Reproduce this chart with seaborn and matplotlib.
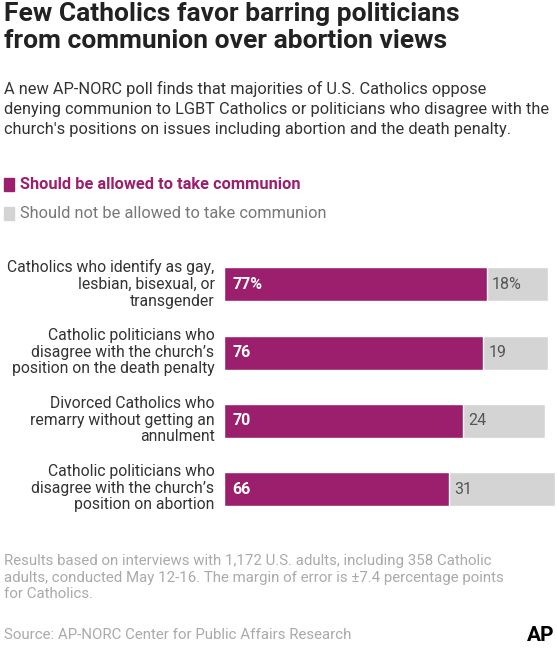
import pandas as pd
import seaborn as sns
import matplotlib.pyplot as plt

categories = [
    "Catholics who identify as gay,\nlesbian, bisexual, or\ntransgender",
    "Catholic politicians who\ndisagree with the church\u2019s\nposition on the death penalty",
    "Divorced Catholics who\nremarry without getting an\nannulment",
    "Catholic politicians who\ndisagree with the church\u2019s\nposition on abortion",
]
allowed = [77, 76, 70, 66]
not_allowed = [18, 19, 24, 31]
allowed_labels = ["77%", "76", "70", "66"]
not_allowed_labels = ["18%", "19", "24", "31"]

PURPLE = "#9c1f6e"
GRAY = "#d4d4d4"
FONT = "Roboto"

df = pd.DataFrame({"cat": categories, "allowed": allowed, "not": not_allowed})
df["total"] = df["allowed"] + df["not"]

sns.set_style("white")
plt.rcParams["font.family"] = [FONT, "DejaVu Sans"]

fig = plt.figure(figsize=(5.57, 6.5), dpi=100)
ax = fig.add_axes([0.402, 0.195, 0.598, 0.42])

sns.barplot(data=df, y="cat", x="total", color=GRAY, width=0.5, ax=ax, saturation=1)
sns.barplot(data=df, y="cat", x="allowed", color=PURPLE, width=0.5, ax=ax, saturation=1)
ax.set_xlim(0, 97.6)
ax.set_ylim(3.5, -0.5)
ax.set_xlabel("")
ax.set_ylabel("")
ax.set_xticks([])
ax.set_yticks([])
sns.despine(ax=ax, left=True, bottom=True)

for i, (a, n) in enumerate(zip(allowed, not_allowed)):
    ax.text(2.5, i, allowed_labels[i], color="white", fontsize=11.5, fontweight="bold", va="center")
    ax.text(a + 1.5, i, not_allowed_labels[i], color="#555555", fontsize=11.5, va="center")
    fig.text(0.385, 1 - (284 + 68 * i) / 650, categories[i], ha="right", va="center",
             fontsize=11.3, color="#333333", linespacing=1.15)

fig.text(0.008, 0.997, "Few Catholics favor barring politicians\nfrom communion over abortion views",
         fontsize=19, fontweight="bold", va="top", color="#222222", linespacing=1.15)
fig.text(0.008, 0.875,
         "A new AP-NORC poll finds that majorities of U.S. Catholics oppose\n"
         "denying communion to LGBT Catholics or politicians who disagree with the\n"
         "church's positions on issues including abortion and the death penalty.",
         fontsize=11.8, va="top", color="#333333", linespacing=1.4)

fig.patches.append(plt.Rectangle((0.008, 0.706), 0.018, 0.02, transform=fig.transFigure, color=PURPLE))
fig.text(0.036, 0.716, "Should be allowed to take communion", fontsize=11.8, fontweight="bold",
         color=PURPLE, va="center")
fig.patches.append(plt.Rectangle((0.008, 0.661), 0.018, 0.02, transform=fig.transFigure, color=GRAY))
fig.text(0.036, 0.671, "Should not be allowed to take communion", fontsize=11.8,
         color="#777777", va="center")

fig.text(0.008, 0.148,
         "Results based on interviews with 1,172 U.S. adults, including 358 Catholic\n"
         "adults, conducted May 12-16. The margin of error is \u00b17.4 percentage points\n"
         "for Catholics.",
         fontsize=10.8, va="top", color="#aaaaaa", linespacing=1.25)
fig.text(0.008, 0.023, "Source: AP-NORC Center for Public Affairs Research", fontsize=10.8,
         color="#aaaaaa", va="center")
fig.text(0.995, 0.023, "AP", fontsize=15, fontweight="bold", color="black", ha="right", va="center")

fig.savefig("out.png", dpi=100, facecolor="white")
